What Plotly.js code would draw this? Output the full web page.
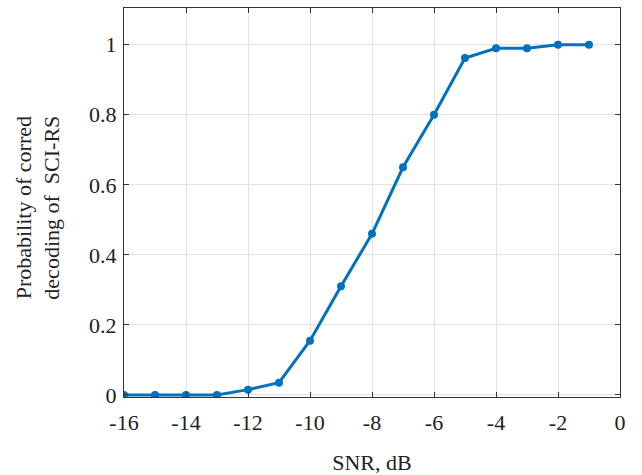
<!DOCTYPE html>
<html>
<head>
<meta charset="utf-8">
<script src="https://cdn.plot.ly/plotly-3.0.1.min.js"></script>
<style>html,body{margin:0;padding:0;background:#fff;}#chart{width:642px;height:475px;}</style>
</head>
<body>
<div id="chart"></div>
<script>
const snr = [-16, -15, -14, -13, -12, -11, -10, -9, -8, -7, -6, -5, -4, -3, -2, -1];
const probability = [0, 0, 0, 0, 0.015, 0.035, 0.155, 0.31, 0.46, 0.65, 0.80, 0.962, 0.99, 0.99, 1.0, 1.0];
const xTicks = [-16, -14, -12, -10, -8, -6, -4, -2, 0];
const yTicks = [0, 0.2, 0.4, 0.6, 0.8, 1];
const yTickLabels = ['0', '0.2', '0.4', '0.6', '0.8', '1'];
const xTitle = 'SNR, dB';
const yTitle = 'Probability of corred<br>decoding of  SCI-RS';

const font = {family: "'Liberation Serif', serif", size: 22, color: '#222'};

const trace = {
  x: snr, y: probability, type: 'scatter', mode: 'lines+markers',
  line: {color: '#0072BD', width: 3},
  marker: {color: '#0072BD', size: 8},
  hoverinfo: 'none'
};

const axisCommon = {
  showline: true, linecolor: '#333', linewidth: 1, mirror: 'ticks',
  ticks: 'inside', ticklen: 5, tickcolor: '#333',
  showgrid: true, gridcolor: '#e3e3e3', gridwidth: 1,
  zeroline: false, tickfont: font
};

const layout = {
  width: 642, height: 475,
  margin: {l: 124, r: 22, t: 8, b: 78},
  paper_bgcolor: '#fff', plot_bgcolor: '#fff',
  showlegend: false,
  xaxis: Object.assign({}, axisCommon, {
    range: [-16, 0], tickvals: xTicks, ticktext: xTicks.map(String),
    ticklabelstandoff: 6,
    title: {text: xTitle, font: font, standoff: 20}
  }),
  yaxis: Object.assign({}, axisCommon, {
    range: [-0.006, 1.105], tickvals: yTicks, ticktext: yTickLabels,
    ticklabelstandoff: 2
  }),
  annotations: [{
    text: yTitle, font: font, textangle: -90,
    xref: 'paper', yref: 'paper', x: -0.174, y: 0.486,
    xanchor: 'center', yanchor: 'middle', showarrow: false
  }]
};

Plotly.newPlot('chart', [trace], layout, {staticPlot: true, displayModeBar: false});
</script>
</body>
</html>
